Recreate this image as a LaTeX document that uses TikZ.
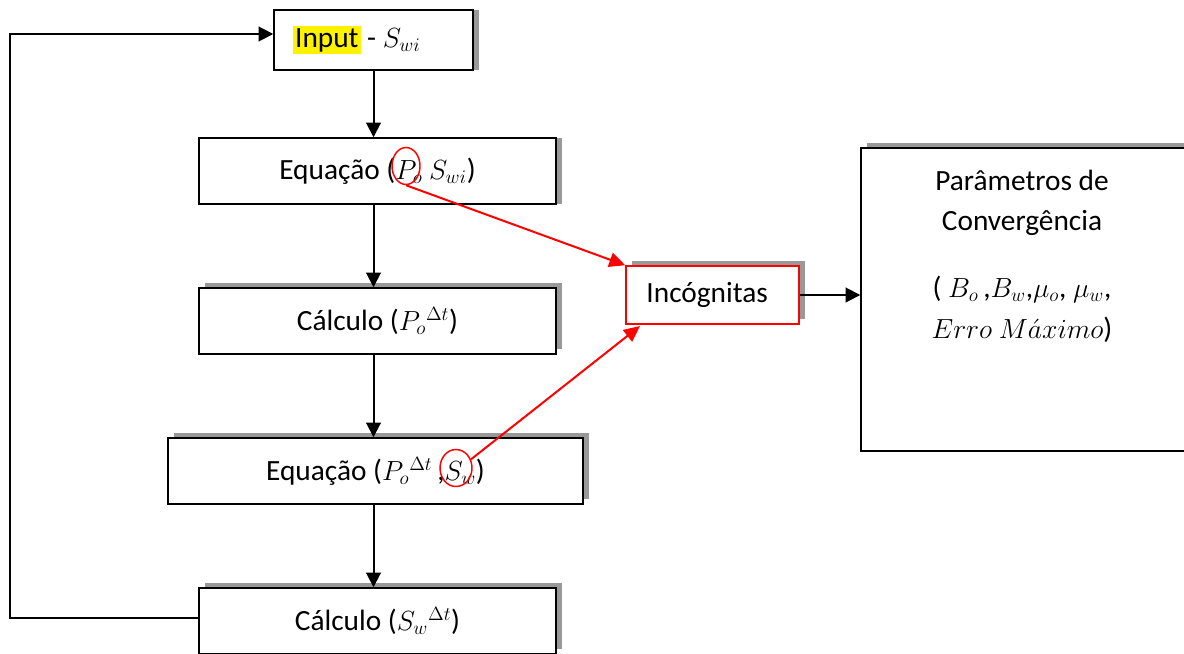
\documentclass[tikz,border=0pt]{standalone}
\usepackage{fontspec}
\setmainfont{Carlito}
\usetikzlibrary{arrows.meta,shapes.geometric,shadows}
\newcommand\pxl[1]{#1*0.75pt}
\begin{document}
\begin{tikzpicture}[x=0.75pt,y=-0.75pt,
  box/.style={draw=black, line width=1.1pt, fill=white, font=\fontsize{22}{26}\selectfont, inner sep=0pt},
  shR/.style={general shadow={fill=black!40, shadow xshift=4.5pt, shadow yshift=0pt}},
  shUR/.style={general shadow={fill=black!40, shadow xshift=4.5pt, shadow yshift=3.75pt}},
  arr/.style={line width=1.5pt, -{Triangle[length=11pt,width=11pt]}},
  redarr/.style={draw=red, line width=1.5pt, -{Triangle[length=12pt,width=11pt]}},
  ring/.style={draw=red, line width=1.1pt, ellipse, inner sep=0pt}]
\useasboundingbox (0,0) rectangle (1184,653);
\clip (0,0) rectangle (1184,653);
\setlength\fboxsep{1.5pt}
% boxes
\node[box, shR, minimum width={\pxl{199}}, minimum height={\pxl{60}}] (in) at (373.5,40)
  {\hspace*{-25pt}\colorbox{yellow}{Input} - $S_{wi}$};
\node[box, shR, minimum width={\pxl{357}}, minimum height={\pxl{66}}] (eq1) at (377.5,171)
  {Equação ($P_o$ $S_{wi}$)};
\node[box, shUR, minimum width={\pxl{357}}, minimum height={\pxl{66}}] (c1) at (377.5,321)
  {Cálculo ($P_o{}^{\Delta t}$)};
\node[box, shUR, minimum width={\pxl{415}}, minimum height={\pxl{66}}] (eq2) at (375.5,471)
  {Equação ($P_o{}^{\Delta t}$\,,$S_w$)};
\node[box, shUR, minimum width={\pxl{357}}, minimum height={\pxl{66}}] (c2) at (377.5,621)
  {Cálculo ($S_w{}^{\Delta t}$)};
\node[box, shUR, draw=red, minimum width={\pxl{173}}, minimum height={\pxl{58}}] (inc) at (712.5,295)
  {\hspace*{-8pt}Incógnitas};
\node[box, shUR, minimum width={\pxl{330}}, minimum height={\pxl{303}}] (conv) at (1026,299.5) {};
\node[font=\fontsize{22}{30}\selectfont, align=center, anchor=north, inner sep=0pt] (convt) at (1022,170)
  {Parâmetros de\\Convergência\\[20pt]( $B_o$\,,$B_w$,$\mu_o$, $\mu_w$,\\[1pt]$Erro\ M\acute{a}ximo$)};
% red rings
\node[ring, minimum width={\pxl{28}}, minimum height={\pxl{37}}] (cpo) at (406,166) {};
\node[ring, minimum width={\pxl{32}}, minimum height={\pxl{37}}] (csw) at (456,468) {};
% black arrows
\draw[arr] (in.south) -- (in.south |- eq1.north);
\draw[arr] (in.south |- eq1.south) -- (in.south |- c1.north);
\draw[arr] (in.south |- c1.south) -- (in.south |- eq2.north);
\draw[arr] (in.south |- eq2.south) -- (in.south |- c2.north);
\coordinate (fb1) at (10,618);
\coordinate (fb2) at (10,34);
\draw[arr] (c2.west |- fb1) -- (fb1) -- (fb2) -- (in.west |- fb2);
\draw[arr] (inc.east) -- (conv.west |- inc.east);
% red arrows
\coordinate (t2) at (640,326);
\draw[redarr] (cpo.south) -- (inc.north west);
\draw[redarr] (csw.30) -- (t2);
\end{tikzpicture}
\end{document}
